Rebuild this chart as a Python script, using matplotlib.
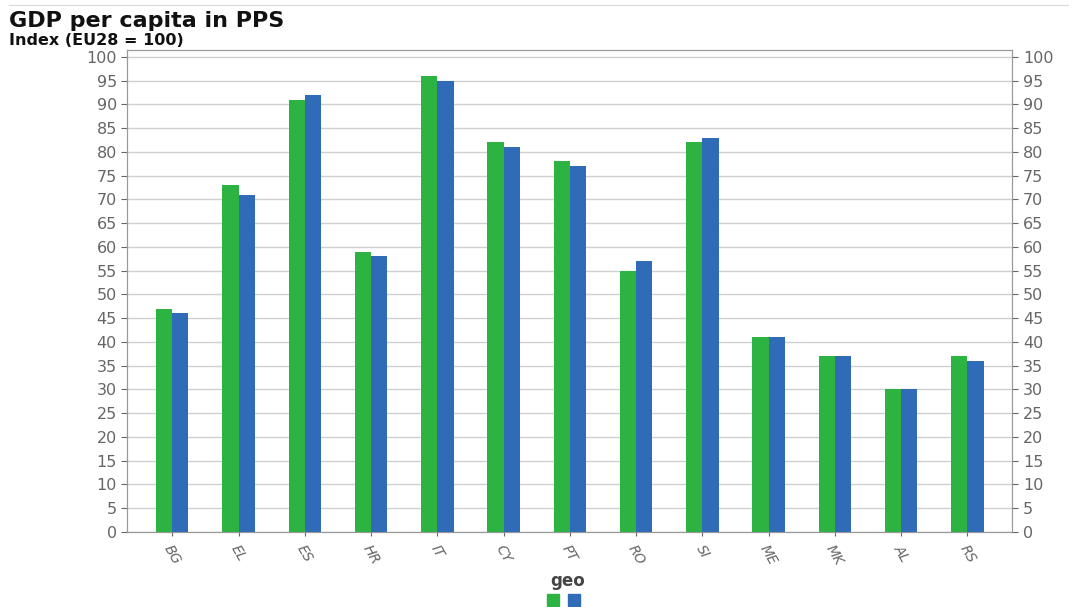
import numpy as np
import matplotlib.pyplot as plt
from matplotlib.patches import Patch

geo = ["BG", "EL", "ES", "HR", "IT", "CY", "PT", "RO", "SI", "ME", "MK", "AL", "RS"]
series_a = [47, 73, 91, 59, 96, 82, 78, 55, 82, 41, 37, 30, 37]
series_b = [46, 71, 92, 58, 95, 81, 77, 57, 83, 41, 37, 30, 36]
yticks = list(range(0, 101, 5))

green = "#2db342"
blue = "#2f6bb7"
grey = "#666666"

fig = plt.figure(figsize=(10.69, 6.07), dpi=100)
ax = fig.add_axes([0.119, 0.124, 0.828, 0.794])

x = np.arange(len(geo))
w = 0.245
ax.bar(x - w / 2, series_a, w, color=green, zorder=3)
ax.bar(x + w / 2, series_b, w, color=blue, zorder=3)

ax.set_xlim(-0.68, 12.68)
ax.set_ylim(0, 101.5)
ax.set_yticks(yticks)
ax.grid(axis="y", color="#d0d0d0", lw=1, zorder=0)
ax.set_xticks(x)
ax.set_xticklabels(geo, rotation=-60, ha="center", va="top", fontsize=10,
                   color="#444444", style="italic")
ax.tick_params(axis="y", colors=grey, labelsize=11.5, length=4)
ax.tick_params(axis="x", colors=grey, length=3, pad=5)
for s in ax.spines.values():
    s.set_color("#999999")

ax2 = ax.twinx()
ax2.set_ylim(ax.get_ylim())
ax2.set_yticks(yticks)
ax2.tick_params(axis="y", colors=grey, labelsize=11.5, length=4)
for s in ax2.spines.values():
    s.set_color("#999999")

fig.text(0.008, 0.955, "GDP per capita in PPS", fontsize=16, weight="semibold", color="#111111")
fig.text(0.008, 0.926, "Index (EU28 = 100)", fontsize=11.5, weight="bold", color="#111111")
fig.add_artist(plt.Line2D([0.008, 1.0], [0.992, 0.992], color="#dddddd", lw=1))

fig.text(0.531, 0.035, "geo", fontsize=12, weight="bold", color="#444444", ha="center")
fig.legend(handles=[Patch(color=green), Patch(color=blue)], labels=["", ""],
           loc="center", bbox_to_anchor=(0.527, 0.01), ncol=2, frameon=False,
           handlelength=0.9, handleheight=0.9, columnspacing=0.6, handletextpad=0)

fig.savefig("out.png", dpi=100)
